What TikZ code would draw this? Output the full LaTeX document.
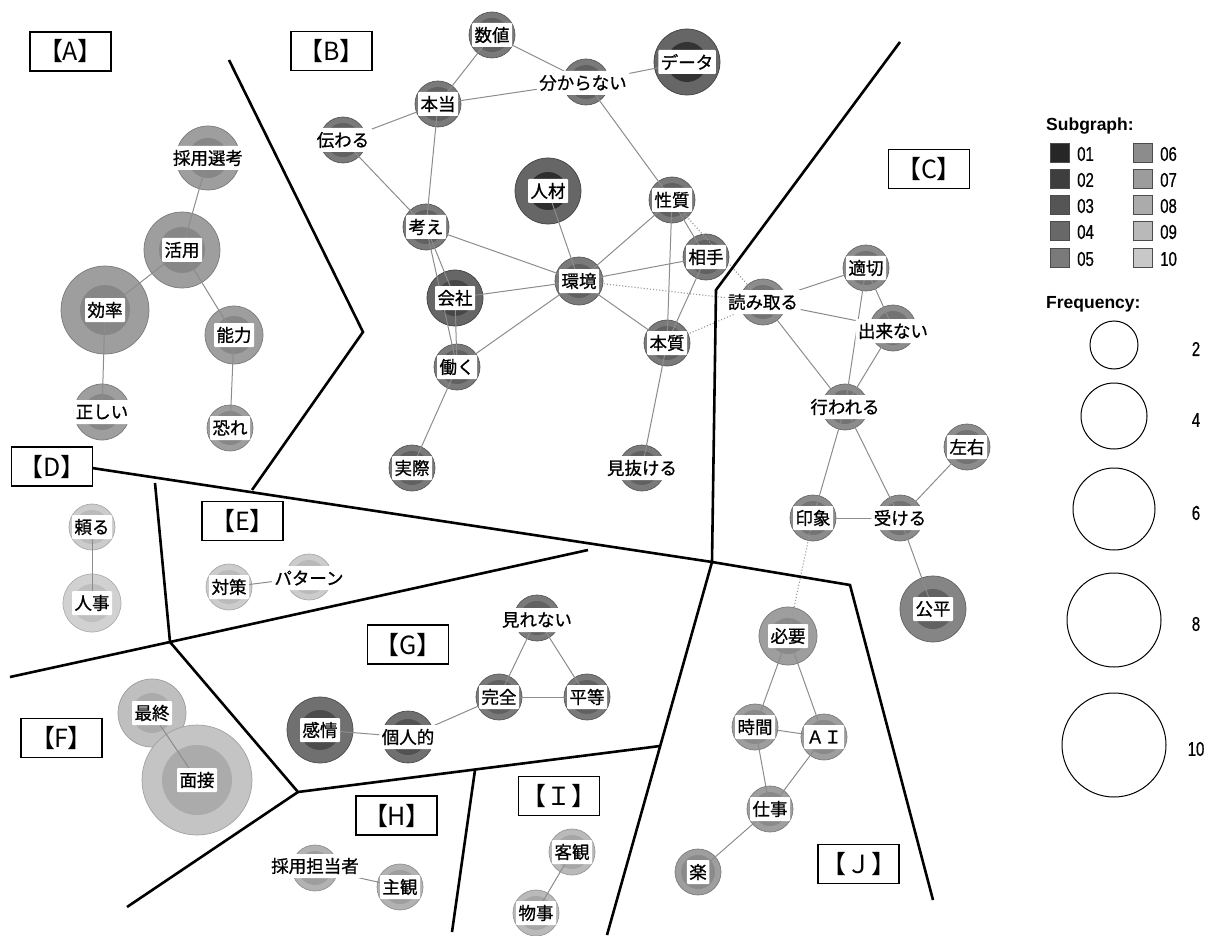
\documentclass[tikz,border=0pt]{standalone}
\usepackage{fontspec}
\newfontfamily\jp[FakeBold=0.9]{Noto Sans CJK JP}
\newfontfamily\jptag[RawFeature=+palt]{Noto Sans CJK JP}
\newfontfamily\jptagw{Noto Sans CJK JP}
\newfontfamily\lgd{Liberation Sans}
\newfontfamily\lgdnum[FakeStretch=0.75,FakeBold=0.6]{Liberation Sans}
\usetikzlibrary{calc}

% subgraph palette
\definecolor{s1}{HTML}{262626}
\definecolor{s2}{HTML}{3E3E3E}
\definecolor{s3}{HTML}{555555}
\definecolor{s4}{HTML}{686868}
\definecolor{s5}{HTML}{7A7A7A}
\definecolor{s6}{HTML}{8C8C8C}
\definecolor{s7}{HTML}{9C9C9C}
\definecolor{s8}{HTML}{ABABAB}
\definecolor{s9}{HTML}{B9B9B9}
\definecolor{s10}{HTML}{C8C8C8}

\begin{document}
\begin{tikzpicture}[x=1pt,y=-1pt,
  edge/.style={draw=black!45, line width=1pt},
  dotedge/.style={draw=black!40, line width=1.1pt, dotted},
  border/.style={line width=2.6pt, line join=miter},
  lbl/.style={fill=white, inner xsep=2.5pt, inner ysep=1.5pt, rounded corners=1pt,
    font=\jp\fontsize{17.5}{17.5}\selectfont, text=black, minimum height=24pt},
  grp/.style={draw=black, line width=1.1pt, minimum width=81pt, minimum height=39pt,
    font=\jptag\fontsize{25}{25}\selectfont, inner sep=0pt},
  grpw/.style={grp, font=\jptagw\fontsize{25}{25}\selectfont},
  sq/.style={draw=black!70, line width=0.8pt, minimum size=19pt, inner sep=0pt},
  freq/.style={circle, draw=black, line width=1pt, inner sep=0pt},
  num/.style={font=\lgdnum\fontsize{20}{20}\selectfont, anchor=west, inner sep=0pt},
]
\useasboundingbox (0,0) rectangle (1213,936);

% ---------- bubbles: name / x / y / outer r / inner r / outer grey / inner grey
\foreach \n/\x/\y/\R/\r/\o/\i in {
  ssk/208/158/32/20/38/47, katsu/182/250/38/23/38/47, kou/105/310/44/25/38/47,
  nou/234/335/29/19/38/47, tada/102/412/28/18/38/47, oso/230/428/23/17/38/47,
  suuchi/492/35/23/17/52/62, wakara/586/82/23/17/52/62, data/687/62/33/20/60/80,
  hontou/438/104/23/17/52/62, tsutawa/343/140/23/17/52/62, jinzai/548/191/33/19/60/82,
  seishitsu/672/200/23/17/52/62, aite/706/257/23/17/52/62, kangae/426/227/23/17/52/62,
  kankyou/579/281/24/17/52/62, kaisha/455/298/28/18/60/72, honshitsu/667/343/23/17/52/62,
  hataraku/457/367/23/17/52/62, jissai/412/468/23/17/52/62, minuke/642/468/23/17/52/62,
  tekisetsu/866/268/23/17/45/55, yomitoru/763/302/23/17/45/55, dekinai/893/328/23/17/45/55,
  okonawa/845/407/23/17/45/55, sayuu/967/447/23/17/45/55, inshou/813/518/23/17/45/55,
  ukeru/900/518/23/17/45/55, kouhei/933/609/33/20/48/62,
  tayoru/92/527/23/17/20/27, jinji/92/603/29/19/18/25,
  taisaku/229/587/23/17/20/27, pattern/309/577/23/17/20/27,
  saishuu/152/713/34/20/25/33, mensetsu/197/780/55/35/23/33,
  mirenai/537/618/23/17/52/62, kanzen/499/697/23/17/52/62, byoudou/587/697/23/17/52/62,
  kojin/408/737/26/18/56/68, kanjou/320/730/33/20/56/70,
  tantou/315/868/23/17/30/38, shukan/400/887/23/17/30/38,
  kyakkan/572/852/23/17/27/35, monogoto/536/913/23/17/27/35,
  hitsuyou/788/636/29/18/38/46, jikan/755/727/23/17/38/46, ai/824/737/23/17/38/46,
  shigoto/770/809/23/17/38/46, raku/698/872/23/17/38/46}
{
  \pgfmathtruncatemacro\bo{\o+14}
  \node[circle, inner sep=0pt, minimum size={2*\R*1pt}, fill=black!\o,
        draw=black!\bo, line width=0.7pt] (b-\n) at (\x,\y) {};
  \fill[black!\i] (b-\n.center) circle[radius=\r];
}

% ---------- co-occurrence links
\foreach \a/\b in {
  ssk/katsu, katsu/kou, katsu/nou, kou/tada, nou/oso,
  suuchi/hontou, suuchi/wakara, wakara/hontou, wakara/data, wakara/seishitsu,
  hontou/tsutawa, hontou/kangae, tsutawa/kangae, kangae/kankyou, kangae/kaisha,
  kangae/hataraku, jinzai/kankyou, seishitsu/kankyou, seishitsu/aite,
  seishitsu/honshitsu, aite/kankyou, aite/honshitsu, kaisha/kankyou,
  kaisha/hataraku, kankyou/hataraku, kankyou/honshitsu, honshitsu/minuke,
  hataraku/jissai,
  yomitoru/tekisetsu, yomitoru/dekinai, yomitoru/okonawa, tekisetsu/dekinai,
  tekisetsu/okonawa, dekinai/okonawa, okonawa/inshou, okonawa/ukeru,
  inshou/ukeru, ukeru/sayuu, ukeru/kouhei,
  tayoru/jinji, taisaku/pattern, saishuu/mensetsu,
  mirenai/kanzen, mirenai/byoudou, kanzen/byoudou, kanzen/kojin, kojin/kanjou,
  tantou/shukan, kyakkan/monogoto,
  hitsuyou/jikan, hitsuyou/ai, jikan/ai, jikan/shigoto, ai/shigoto, shigoto/raku}
  \draw[edge] (b-\a.center) -- (b-\b.center);

% links between subgraphs
\foreach \a/\b in {kankyou/yomitoru, honshitsu/yomitoru, seishitsu/yomitoru, inshou/hitsuyou}
  \draw[dotedge] (b-\a.center) -- (b-\b.center);

% ---------- word labels
\foreach \n/\x/\y/\t in {
  ssk/208/158/採用選考, katsu/182/250/活用, kou/105/310/効率, nou/234/335/能力,
  tada/102/412/正しい, oso/230/428/恐れ,
  suuchi/492/35/数値, wakara/583/83/分からない, data/687/62/データ, hontou/438/104/本当,
  tsutawa/343/140/伝わる, jinzai/548/191/人材, seishitsu/672/200/性質, aite/706/257/相手,
  kangae/426/227/考え, kankyou/579/281/環境, kaisha/455/298/会社, honshitsu/667/343/本質,
  hataraku/457/367/働く, jissai/412/468/実際, minuke/642/468/見抜ける,
  tekisetsu/866/268/適切, yomitoru/763/302/読み取る, dekinai/893/331/出来ない,
  okonawa/845/407/行われる, sayuu/967/447/左右, inshou/813/518/印象, ukeru/900/518/受ける,
  kouhei/933/609/公平,
  tayoru/92/527/頼る, jinji/92/603/人事, taisaku/229/587/対策, pattern/309/578/パターン,
  saishuu/152/713/最終, mensetsu/197/780/面接,
  mirenai/537/620/見れない, kanzen/499/697/完全, byoudou/587/697/平等, kojin/408/737/個人的,
  kanjou/320/730/感情, tantou/315/866/採用担当者, shukan/400/887/主観,
  kyakkan/572/852/客観, monogoto/536/913/物事,
  hitsuyou/788/636/必要, jikan/755/727/時間, ai/824/737/ＡＩ, shigoto/770/809/仕事,
  raku/698/872/楽}
  \node[lbl] (\n) at (\x,\y) {\t};

% ---------- region borders
\coordinate (p1) at (229,60);   \coordinate (p2) at (363,332); \coordinate (p3) at (252,490);
\coordinate (q1) at (92,468);   \coordinate (q2) at (712,562); \coordinate (q3) at (850,585);
\coordinate (q4) at (933,900);
\coordinate (c1) at (900,42);   \coordinate (c2) at (716,290);
\coordinate (e1) at (155,483);  \coordinate (e2) at (170,642); \coordinate (e3) at (588,550);
\coordinate (e4) at (10,677);
\coordinate (f1) at (298,792);  \coordinate (f2) at (127,907);
\coordinate (g1) at (660,746);
\coordinate (h1) at (475,770);  \coordinate (h2) at (452,932);
\coordinate (j1) at (607,935);

\draw[border] (p1) -- (p2) -- (p3);
\draw[border] (q1) -- (q2) -- (q3) -- (q4);
\draw[border] (c1) -- (c2) -- (q2) -- (j1);
\draw[border] (e1) -- (e2) -- (e3);
\draw[border] (e4) -- (e2) -- (f1) -- (g1);
\draw[border] (f1) -- (f2);
\draw[border] (h1) -- (h2);

% ---------- region tags
\node[grp] (tA) at (70.5,51.5) {【A】};
\node[grp] (tB) at (331.5,51)  {【B】};
\node[grp] (tC) at (929,169)   {【C】};
\node[grp, fill=white] (tD) at (52,466.5) {【D】};
\node[grp] (tE) at (242.5,521) {【E】};
\node[grp] (tF) at (61.5,738)  {【F】};
\node[grp] (tG) at (408,644.5) {【G】};
\node[grp] (tH) at (396.5,815.5) {【H】};
\node[grpw] (tI) at (559,796)   {【Ｉ】};
\node[grpw] (tJ) at (858.5,864) {【Ｊ】};

% ---------- legend: subgraph
\node[font=\lgd\bfseries\fontsize{17.5}{17.5}\selectfont, anchor=west, inner sep=0pt]
  (hsub) at (1046,126) {Subgraph:};
\foreach \k/\y in {1/153,2/179,3/205,4/231,5/258}{
  \node[sq, fill=s\k] (sq\k) at (1060,\y) {};
  \node[num] (nl\k) at (1077,\y+1) {0\k};
}
\foreach \k/\y in {6/153,7/179,8/205,9/231,10/258}{
  \node[sq, fill=s\k] (sq\k) at (1143,\y) {};
  \pgfmathtruncatemacro\kk{\k}
  \node[num] (nl\k) at (1160,\y+1) {\ifnum\kk<10 0\fi\k};
}

% ---------- legend: frequency
\node[font=\lgd\bfseries\fontsize{17.5}{17.5}\selectfont, anchor=west, inner sep=0pt]
  (hfreq) at (1046,304) {Frequency:};
\foreach \v/\y/\R in {2/345/24, 4/416/33, 6/509/41, 8/620/47, 10/745/52}{
  \node[freq, minimum size={2*\R*1pt}] (fc\v) at (1114,\y) {};
  \node[num, anchor=center] (fn\v) at (1196,\y+4) {\v};
}
\end{tikzpicture}
\end{document}
